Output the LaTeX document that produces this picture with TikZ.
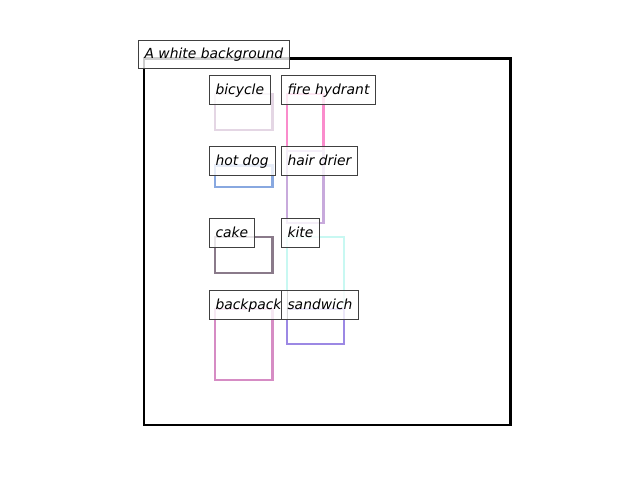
\documentclass[tikz,border=0pt]{standalone}
\usepackage{fontspec}
\setmainfont{DejaVu Sans}
\definecolor{bicyclecol}{HTML}{E4D6E4}
\definecolor{hydrantcol}{HTML}{FA8CCC}
\definecolor{hotdogcol}{HTML}{88A8E0}
\definecolor{driercol}{HTML}{C8AADC}
\definecolor{cakecol}{HTML}{8A7A8A}
\definecolor{kitecol}{HTML}{C8F8F2}
\definecolor{backpackcol}{HTML}{D68CC4}
\definecolor{sandwichcol}{HTML}{9C88E4}
\tikzset{
  box/.style={line width=2pt},
  tag/.style={draw=black!75, line width=0.72pt, fill=white, fill opacity=0.8,
    text opacity=1, anchor=base west, xshift=-4.6pt, inner xsep=4.6pt,
    inner ysep=4pt, text height=9pt, text depth=3.2pt,
    font=\fontsize{10pt}{12pt}\selectfont\itshape}
}
\begin{document}
\begin{tikzpicture}[x=0.72pt,y=-0.72pt]
                        \useasboundingbox (0,0) rectangle (640,480);
                        \draw[line width=2pt] (144,58.5) coordinate (bg) rectangle (510.5,425);
                        % object boxes
                        \draw[box,bicyclecol] (215,94) coordinate (bicycle) rectangle (272.5,130);
                        \draw[box,hydrantcol] (287,94) coordinate (hydrant) rectangle (323.5,151);
                        \draw[box,hotdogcol] (215,165.5) coordinate (hotdog) rectangle (272.5,187);
                        \draw[box,driercol] (287,151) coordinate (drier) rectangle (323.5,223);
                        \draw[box,cakecol] (215,237) coordinate (cake) rectangle (272.5,273);
                        \draw[box,kitecol] (287,237) coordinate (kite) rectangle (344,309);
                        \draw[box,backpackcol] (215,309) coordinate (backpack) rectangle (272.5,380);
                        \draw[box,sandwichcol] (287,309) coordinate (sandwich) rectangle (344,344);
                        % labels
                        \node[tag] (bgTag) at (bg) {A white background};
                        \node[tag] (bicycleTag) at (bicycle) {bicycle};
                        \node[tag] (hydrantTag) at (hydrant) {fire hydrant};
                        \node[tag] (hotdogTag) at (215,165) {hot dog};
                        \node[tag] (drierTag) at (287,165) {hair drier};
                        \node[tag] (cakeTag) at (cake) {cake};
                        \node[tag] (kiteTag) at (kite) {kite};
                        \node[tag] (backpackTag) at (backpack) {backpack};
                        \node[tag] (sandwichTag) at (sandwich) {sandwich};
                    \end{tikzpicture}
\end{document}
